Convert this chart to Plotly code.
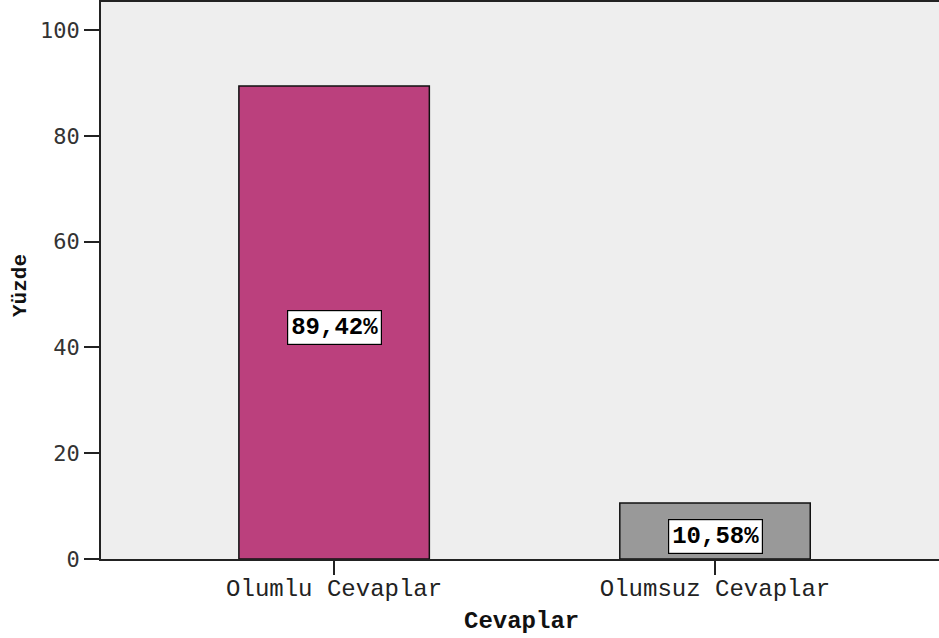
import plotly.graph_objects as go

categories = ['Olumlu Cevaplar', 'Olumsuz Cevaplar']
percentages = [89.42, 10.58]
bar_colors = ['#bb407d', '#999999']
value_labels = ['89,42%', '10,58%']

MONO = 'Liberation Mono, Courier New, monospace'

fig = go.Figure()
fig.add_trace(go.Bar(x=categories, y=percentages,
                     width=0.5,
                     marker=dict(color=bar_colors, line=dict(color='#111111', width=1.5)),
                     hoverinfo='skip'))

for cat, val, lab in zip(categories, percentages, value_labels):
  fig.add_annotation(x=cat, y=val / 2, text='<b>' + lab + '</b>', showarrow=False, yshift=-5,
                     font=dict(family=MONO, size=24, color='black'),
                     bgcolor='white', bordercolor='black', borderwidth=1.2, borderpad=3)

# axis titles as annotations so the plot area stays put
fig.add_annotation(xref='paper', yref='paper', x=(521 - 101) / 838, y=-(621 - 559) / 557,
                   text='<b>Cevaplar</b>', showarrow=False, yanchor='middle',
                   font=dict(family=MONO, size=24, color='#111111'))
fig.add_annotation(xref='paper', yref='paper', x=-(101 - 20) / 838, y=(559 - 286) / 557,
                   text='<b>Yüzde</b>', showarrow=False, textangle=-90, xanchor='center',
                   font=dict(family=MONO, size=21, color='#111111'))

fig.update_layout(width=939, height=638,
                  margin=dict(l=101, r=0, t=2, b=79, autoexpand=False),
                  plot_bgcolor='#eeeeee', paper_bgcolor='white',
                  showlegend=False,
                  font=dict(family=MONO, color='#222222'))

fig.update_xaxes(range=[-0.612, 1.588], showline=True, linecolor='#222222', linewidth=1.5,
                 mirror=True, ticks='outside', ticklen=14, tickwidth=2, tickcolor='#222222',
                 tickfont=dict(family=MONO, size=24, color='#222222'), ticklabelstandoff=-8,
                 automargin=False, showgrid=False, zeroline=False)

fig.update_yaxes(range=[0, 105.3], tickvals=[0, 20, 40, 60, 80, 100],
                 showline=True, linecolor='#222222', linewidth=1.5,
                 ticks='outside', ticklen=15, tickwidth=2, tickcolor='#222222',
                 tickfont=dict(family='DejaVu Sans Mono, monospace', size=22, color='#333333'),
                 automargin=False, showgrid=False, zeroline=False)

# the page body has a default 8px margin; drop it so the figure sits at the corner
fig.write_html("out.html", config={'displayModeBar': False},
               post_script="document.body.style.margin='0px';")
